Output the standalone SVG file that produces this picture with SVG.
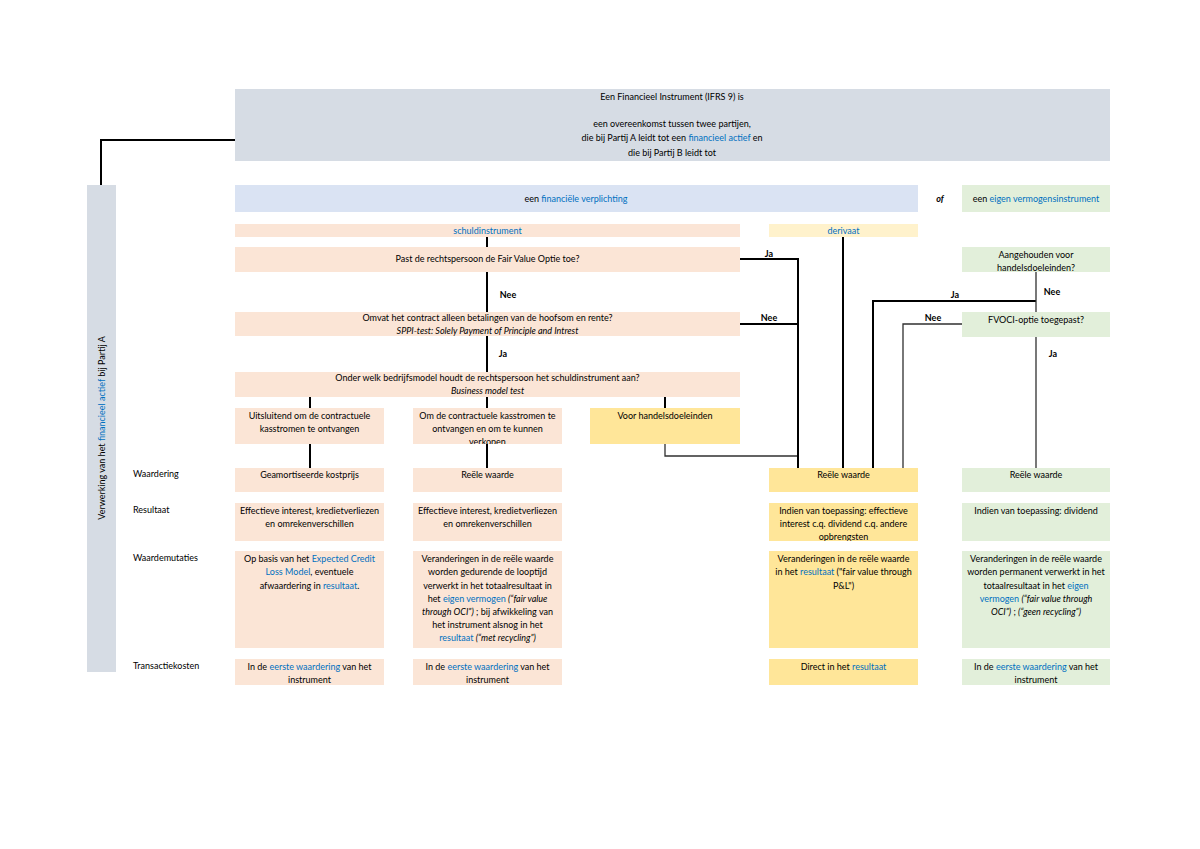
<svg xmlns="http://www.w3.org/2000/svg" width="1200" height="849" viewBox="0 0 1200 849">
<defs>
<style>
text{font-family:Lato,"Liberation Sans","DejaVu Sans",sans-serif;font-size:9px;fill:#000}
.c{text-anchor:middle}
.b{fill:#0070c0}
.i{font-style:italic}
.bo{font-weight:bold}
.gray{fill:#d6dce4}
.lb{fill:#dae3f3}
.pe{fill:#fbe5d6}
.ly{fill:#fff2cc}
.ye{fill:#ffe699}
.gr{fill:#e2efda}
.k{stroke:#000;stroke-width:2;fill:none}
.n{stroke:#303030;stroke-width:1.3;fill:none}
</style>
<clipPath id="cb2"><rect x="413" y="408" width="149" height="36"/></clipPath>
<clipPath id="cy2"><rect x="769" y="503" width="149" height="38"/></clipPath>
<clipPath id="cg1"><rect x="962" y="247" width="148" height="25"/></clipPath>
</defs>
<rect width="1200" height="849" fill="#fff"/>

<g id="connectors">
<polyline class="k" points="235,140 101,140 101,185"/>
<line class="k" x1="487" y1="237" x2="487" y2="247"/>
<line class="k" x1="487" y1="272" x2="487" y2="312"/>
<line class="k" x1="487" y1="336" x2="487" y2="372"/>
<line class="k" x1="487" y1="397" x2="487" y2="408"/>
<line class="k" x1="487" y1="444" x2="487" y2="468"/>
<line class="k" x1="310" y1="397" x2="310" y2="408"/>
<line class="k" x1="310" y1="444" x2="310" y2="468"/>
<line class="k" x1="665" y1="397" x2="665" y2="408"/>
<polyline class="n" points="665,444 665,456 798,456"/>
<polyline class="k" points="740,259 798,259 798,468"/>
<line class="k" x1="740" y1="324" x2="798" y2="324"/>
<line class="k" x1="843" y1="237" x2="843" y2="468"/>
<polyline class="k" points="873,468 873,301 1036,301"/>
<line class="n" x1="1036" y1="272" x2="1036" y2="312"/>
<polyline class="n" points="962,324 903,324 903,468"/>
<line class="n" x1="1036" y1="337" x2="1036" y2="468"/>
</g>

<g id="labels">
<text x="769" y="257" class="c bo">Ja</text>
<text x="769" y="321" class="c bo">Nee</text>
<text x="508" y="298" class="c bo">Nee</text>
<text x="503" y="357" class="c bo">Ja</text>
<text x="955" y="298" class="c bo">Ja</text>
<text x="1052" y="295" class="c bo">Nee</text>
<text x="933" y="321" class="c bo">Nee</text>
<text x="1053" y="357" class="c bo">Ja</text>
<text x="940" y="202" class="c i bo">of</text>
<text x="133" y="477">Waardering</text>
<text x="133" y="513">Resultaat</text>
<text x="133" y="561">Waardemutaties</text>
<text x="133" y="669">Transactiekosten</text>
</g>

<g id="n-top">
<rect class="gray" x="235" y="89" width="875" height="72"/>
<text x="672" y="100" class="c">Een Financieel Instrument (IFRS 9) is</text>
<text x="672" y="127" class="c">een overeenkomst tussen twee partijen,</text>
<text x="672" y="141" class="c">die bij Partij A leidt tot een <tspan class="b">financieel actief</tspan> en</text>
<text x="672" y="156" class="c">die bij Partij B leidt tot</text>
</g>

<g id="n-side">
<rect class="gray" x="87" y="185" width="29" height="487"/>
<text transform="translate(105,428) rotate(-90)" class="c">Verwerking van het <tspan class="b">financieel actief</tspan> bij Partij A</text>
</g>

<g id="n-verplichting">
<rect class="lb" x="235" y="185" width="683" height="27"/>
<text x="576" y="202" class="c">een <tspan class="b">financiële verplichting</tspan></text>
</g>
<g id="n-eigenvermogen">
<rect class="gr" x="962" y="185" width="148" height="27"/>
<text x="1036" y="202" class="c">een <tspan class="b">eigen vermogensinstrument</tspan></text>
</g>

<g id="n-schuld">
<rect class="pe" x="235" y="224" width="505" height="13"/>
<text x="487.5" y="233.5" class="c b">schuldinstrument</text>
</g>
<g id="n-derivaat">
<rect class="ly" x="769" y="224" width="149" height="13"/>
<text x="843.5" y="233.5" class="c b">derivaat</text>
</g>

<g id="n-fvo">
<rect class="pe" x="235" y="247" width="505" height="25"/>
<text x="487.5" y="262" class="c">Past de rechtspersoon de Fair Value Optie toe?</text>
</g>
<g id="n-sppi">
<rect class="pe" x="235" y="312" width="505" height="24"/>
<text x="487.5" y="321" class="c">Omvat het contract alleen betalingen van de hoofsom en rente?</text>
<text x="487.5" y="334" class="c i">SPPI-test: Solely Payment of Principle and Intrest</text>
</g>
<g id="n-bm">
<rect class="pe" x="235" y="372" width="505" height="25"/>
<text x="487.5" y="381" class="c">Onder welk bedrijfsmodel houdt de rechtspersoon het schuldinstrument aan?</text>
<text x="487.5" y="394" class="c i">Business model test</text>
</g>

<g id="n-bm1">
<rect class="pe" x="235" y="408" width="149" height="36"/>
<text x="309.5" y="419" class="c">Uitsluitend om de contractuele</text>
<text x="309.5" y="432" class="c">kasstromen te ontvangen</text>
</g>
<g id="n-bm2">
<rect class="pe" x="413" y="408" width="149" height="36"/>
<g clip-path="url(#cb2)">
<text x="487.5" y="419" class="c">Om de contractuele kasstromen te</text>
<text x="487.5" y="432" class="c">ontvangen en om te kunnen</text>
<text x="487.5" y="445" class="c">verkopen</text>
</g>
</g>
<g id="n-bm3">
<rect class="ye" x="590" y="408" width="150" height="36"/>
<text x="665" y="419" class="c">Voor handelsdoeleinden</text>
</g>

<g id="n-aangehouden">
<rect class="gr" x="962" y="247" width="148" height="25"/>
<g clip-path="url(#cg1)">
<text x="1036" y="258" class="c">Aangehouden voor</text>
<text x="1036" y="271" class="c">handelsdoeleinden?</text>
</g>
</g>
<g id="n-fvoci">
<rect class="gr" x="962" y="312" width="148" height="25"/>
<text x="1036" y="323" class="c">FVOCI-optie toegepast?</text>
</g>

<g id="col1">
<g id="c1-w"><rect class="pe" x="235" y="468" width="149" height="24"/>
<text x="309.5" y="478" class="c">Geamortiseerde kostprijs</text></g>
<g id="c1-r"><rect class="pe" x="235" y="503" width="149" height="38"/>
<text x="309.5" y="514" class="c">Effectieve interest, kredietverliezen</text>
<text x="309.5" y="527" class="c">en omrekenverschillen</text></g>
<g id="c1-m"><rect class="pe" x="235" y="551" width="149" height="97"/>
<text x="309.5" y="562" class="c">Op basis van het <tspan class="b">Expected Credit</tspan></text>
<text x="309.5" y="575" class="c"><tspan class="b">Loss Model</tspan>, eventuele</text>
<text x="309.5" y="589" class="c">afwaardering in <tspan class="b">resultaat</tspan>.</text></g>
<g id="c1-t"><rect class="pe" x="235" y="659" width="149" height="26"/>
<text x="309.5" y="670" class="c">In de <tspan class="b">eerste waardering</tspan> van het</text>
<text x="309.5" y="683" class="c">instrument</text></g>
</g>

<g id="col2">
<g id="c2-w"><rect class="pe" x="413" y="468" width="149" height="24"/>
<text x="487.5" y="478" class="c">Reële waarde</text></g>
<g id="c2-r"><rect class="pe" x="413" y="503" width="149" height="38"/>
<text x="487.5" y="514" class="c">Effectieve interest, kredietverliezen</text>
<text x="487.5" y="527" class="c">en omrekenverschillen</text></g>
<g id="c2-m"><rect class="pe" x="413" y="551" width="149" height="97"/>
<text x="487.5" y="562" class="c">Veranderingen in de reële waarde</text>
<text x="487.5" y="575" class="c">worden gedurende de looptijd</text>
<text x="487.5" y="589" class="c">verwerkt in het totaalresultaat in</text>
<text x="487.5" y="602" class="c">het <tspan class="b">eigen vermogen</tspan> <tspan class="i">(“fair value</tspan></text>
<text x="487.5" y="615" class="c"><tspan class="i">through OCI”)</tspan> ; bij afwikkeling van</text>
<text x="487.5" y="628" class="c">het instrument alsnog in het</text>
<text x="487.5" y="641" class="c"><tspan class="b">resultaat</tspan> <tspan class="i">(“met recycling”)</tspan></text></g>
<g id="c2-t"><rect class="pe" x="413" y="659" width="149" height="26"/>
<text x="487.5" y="670" class="c">In de <tspan class="b">eerste waardering</tspan> van het</text>
<text x="487.5" y="683" class="c">instrument</text></g>
</g>

<g id="col3">
<g id="c3-w"><rect class="ye" x="769" y="468" width="149" height="24"/>
<text x="843.5" y="478" class="c">Reële waarde</text></g>
<g id="c3-r"><rect class="ye" x="769" y="503" width="149" height="38"/>
<g clip-path="url(#cy2)">
<text x="843.5" y="514" class="c">Indien van toepassing: effectieve</text>
<text x="843.5" y="527" class="c">interest c.q. dividend c.q. andere</text>
<text x="843.5" y="540" class="c">opbrengsten</text></g></g>
<g id="c3-m"><rect class="ye" x="769" y="551" width="149" height="97"/>
<text x="843.5" y="562" class="c">Veranderingen in de reële waarde</text>
<text x="843.5" y="575" class="c">in het <tspan class="b">resultaat</tspan> ("fair value through</text>
<text x="843.5" y="589" class="c">P&amp;L")</text></g>
<g id="c3-t"><rect class="ye" x="769" y="659" width="149" height="26"/>
<text x="843.5" y="670" class="c">Direct in het <tspan class="b">resultaat</tspan></text></g>
</g>

<g id="col4">
<g id="c4-w"><rect class="gr" x="962" y="468" width="148" height="24"/>
<text x="1036" y="478" class="c">Reële waarde</text></g>
<g id="c4-r"><rect class="gr" x="962" y="503" width="148" height="38"/>
<text x="1036" y="514" class="c">Indien van toepassing: dividend</text></g>
<g id="c4-m"><rect class="gr" x="962" y="551" width="148" height="97"/>
<text x="1036" y="562" class="c">Veranderingen in de reële waarde</text>
<text x="1036" y="575" class="c">worden permanent verwerkt in het</text>
<text x="1036" y="589" class="c">totaalresultaat in het <tspan class="b">eigen</tspan></text>
<text x="1036" y="602" class="c"><tspan class="b">vermogen</tspan> <tspan class="i">(“fair value through</tspan></text>
<text x="1036" y="615" class="c"><tspan class="i">OCI”)</tspan> ; <tspan class="i">(“geen recycling”)</tspan></text></g>
<g id="c4-t"><rect class="gr" x="962" y="659" width="148" height="26"/>
<text x="1036" y="670" class="c">In de <tspan class="b">eerste waardering</tspan> van het</text>
<text x="1036" y="683" class="c">instrument</text></g>
</g>
</svg>
